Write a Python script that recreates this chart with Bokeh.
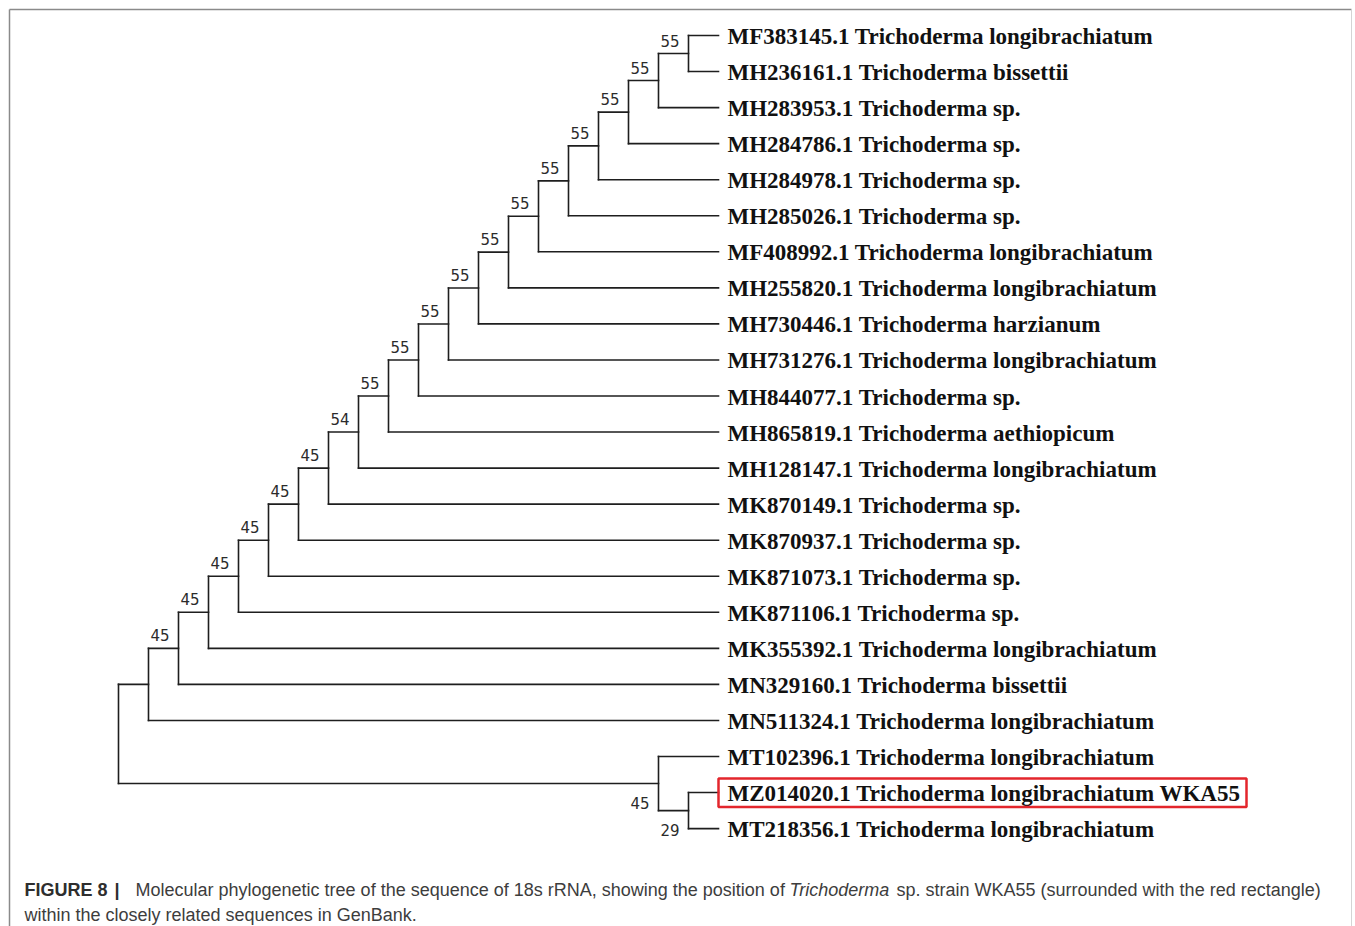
from bokeh.plotting import figure
from bokeh.models import Range1d
from bokeh.core.properties import value
from bokeh.embed import file_html
from bokeh.resources import INLINE

# ---- data -------------------------------------------------------------
# Upper clade: a ladder, tips listed top to bottom; each rung joins the
# clade built so far with the next tip and carries a bootstrap value.
upper_taxa = [
    "MF383145.1 Trichoderma longibrachiatum",
    "MH236161.1 Trichoderma bissettii",
    "MH283953.1 Trichoderma sp.",
    "MH284786.1 Trichoderma sp.",
    "MH284978.1 Trichoderma sp.",
    "MH285026.1 Trichoderma sp.",
    "MF408992.1 Trichoderma longibrachiatum",
    "MH255820.1 Trichoderma longibrachiatum",
    "MH730446.1 Trichoderma harzianum",
    "MH731276.1 Trichoderma longibrachiatum",
    "MH844077.1 Trichoderma sp.",
    "MH865819.1 Trichoderma aethiopicum",
    "MH128147.1 Trichoderma longibrachiatum",
    "MK870149.1 Trichoderma sp.",
    "MK870937.1 Trichoderma sp.",
    "MK871073.1 Trichoderma sp.",
    "MK871106.1 Trichoderma sp.",
    "MK355392.1 Trichoderma longibrachiatum",
    "MN329160.1 Trichoderma bissettii",
    "MN511324.1 Trichoderma longibrachiatum",
]
upper_support = [55, 55, 55, 55, 55, 55, 55, 55, 55, 55, 55, 54,
                 45, 45, 45, 45, 45, 45, None]

# Lower clade: (MT102396.1, (MZ014020.1, MT218356.1))
lower_taxa = [
    "MT102396.1 Trichoderma longibrachiatum",
    "MZ014020.1 Trichoderma longibrachiatum WKA55",
    "MT218356.1 Trichoderma longibrachiatum",
]
lower_support = [45, 29]  # outer node, inner node

highlight = "MZ014020.1 Trichoderma longibrachiatum WKA55"

caption_bold = "FIGURE 8"
caption_bar = "|"
caption_a = "Molecular phylogenetic tree of the sequence of 18s rRNA, showing the position of"
caption_it = "Trichoderma"
caption_b = "sp. strain WKA55 (surrounded with the red rectangle)"
caption_line2 = "within the closely related sequences in GenBank."


# ---- tree construction -------------------------------------------------
def leaf(name):
    return {"name": name, "children": [], "support": None}


def join(a, b, support):
    return {"name": None, "children": [a, b], "support": support}


upper = leaf(upper_taxa[0])
for name, s in zip(upper_taxa[1:], upper_support):
    upper = join(upper, leaf(name), s)

lower = leaf(lower_taxa[-1])
for name, s in zip(reversed(lower_taxa[:-1]), reversed(lower_support)):
    lower = join(leaf(name), lower, s)

root = join(upper, lower, None)

counter = [0]


def height(n):
    if not n["children"]:
        n["h"] = 0
    else:
        n["h"] = 1 + max(height(c) for c in n["children"])
    return n["h"]


def place(n):
    if not n["children"]:
        n["y"] = counter[0]
        counter[0] += 1
    else:
        for c in n["children"]:
            place(c)
        n["y"] = (n["children"][0]["y"] + n["children"][-1]["y"]) / 2


H_MAX = height(root)
place(root)


def set_x(n):
    n["x"] = H_MAX - n["h"]
    for c in n["children"]:
        set_x(c)


set_x(root)

seg = dict(x0=[], y0=[], x1=[], y1=[])
tips = dict(x=[], y=[], text=[])
sup_up = dict(x=[], y=[], text=[])
sup_dn = dict(x=[], y=[], text=[])


def walk(n):
    if not n["children"]:
        tips["x"].append(n["x"])
        tips["y"].append(n["y"])
        tips["text"].append(n["name"])
        return
    kids = n["children"]
    seg["x0"].append(n["x"]); seg["y0"].append(kids[0]["y"])
    seg["x1"].append(n["x"]); seg["y1"].append(kids[-1]["y"])
    for i, c in enumerate(kids):
        seg["x0"].append(n["x"]); seg["y0"].append(c["y"])
        seg["x1"].append(c["x"]); seg["y1"].append(c["y"])
        if c["support"] is not None:
            tgt = sup_up if i == 0 else sup_dn
            tgt["x"].append(c["x"])
            tgt["y"].append(c["y"])
            tgt["text"].append(str(c["support"]))
        walk(c)


walk(root)

# ---- figure -------------------------------------------------------------
W, H = 1355, 926
X0, DX = 118, 30      # root position and spacing between tree levels (px)
Y0, DY = 35, 36.05    # first tip position and tip spacing (px)


def px(v):
    return (v - X0) / DX


def py(v):
    return (v - Y0) / DY


p = figure(width=W, height=H,
           x_range=Range1d(px(0), px(W)), y_range=Range1d(py(H), py(0)),
           x_axis_location=None, y_axis_location=None,
           toolbar_location=None, output_backend="svg",
           min_border=0, outline_line_color=None,
           background_fill_color="white", border_fill_color="white")
p.grid.visible = False

# frame around the figure panel
p.segment(x0=[px(9), px(9)], y0=[py(9), py(9)], x1=[px(1351), px(9)], y1=[py(9), py(H + 5)],
          line_color="#8a8a8a", line_width=1.5)
p.segment(x0=[px(1351)], y0=[py(9)], x1=[px(1351)], y1=[py(H + 5)],
          line_color="#d4d4d4", line_width=1)

# branches
p.segment(x0="x0", y0="y0", x1="x1", y1="y1", source=seg,
          line_color="#1e1e1e", line_width=1.6, line_cap="square")

# tip labels
p.text(x="x", y="y", text="text", source=tips,
       text_font=value("Liberation Serif"), text_font_style="bold",
       text_font_size="23px", text_color="#111111",
       text_baseline="middle", text_align="left", x_offset=9, y_offset=1)

# bootstrap values
p.text(x="x", y="y", text="text", source=sup_up,
       text_font=value("DejaVu Sans"), text_font_size="15px",
       text_color="#2b2b2b", text_align="right", text_baseline="bottom",
       x_offset=-9, y_offset=-7)
p.text(x="x", y="y", text="text", source=sup_dn,
       text_font=value("DejaVu Sans"), text_font_size="15px",
       text_color="#2b2b2b", text_align="right", text_baseline="top",
       x_offset=-9, y_offset=13)

# highlight box around the new strain
hi = tips["text"].index(highlight)
hx, hy = tips["x"][hi], tips["y"][hi]
p.quad(left=[hx], right=[hx + 528 / DX], top=[hy - 14 / DY], bottom=[hy + 14.5 / DY],
       fill_color=None, line_color="#e3262c", line_width=2.5)

# caption
cap_font = value("Liberation Sans")
p.text(x=[px(24)], y=[py(889)], text=[caption_bold], text_font=cap_font,
       text_font_style="bold", text_font_size="18px", text_color="#2e2e2e",
       text_baseline="middle")
p.text(x=[px(114)], y=[py(889)], text=[caption_bar], text_font=cap_font,
       text_font_style="bold", text_font_size="18px", text_color="#2e2e2e",
       text_baseline="middle")
p.text(x=[px(135), px(896)], y=[py(889), py(889)], text=[caption_a, caption_b],
       text_font=cap_font, text_font_size="18px", text_color="#3d3d3d",
       text_baseline="middle")
p.text(x=[px(789)], y=[py(889)], text=[caption_it], text_font=cap_font,
       text_font_style="italic", text_font_size="18px", text_color="#3d3d3d",
       text_baseline="middle")
p.text(x=[px(24)], y=[py(914)], text=[caption_line2], text_font=cap_font,
       text_font_size="18px", text_color="#3d3d3d", text_baseline="middle")

open("out.html", "w").write(file_html(p, INLINE))
